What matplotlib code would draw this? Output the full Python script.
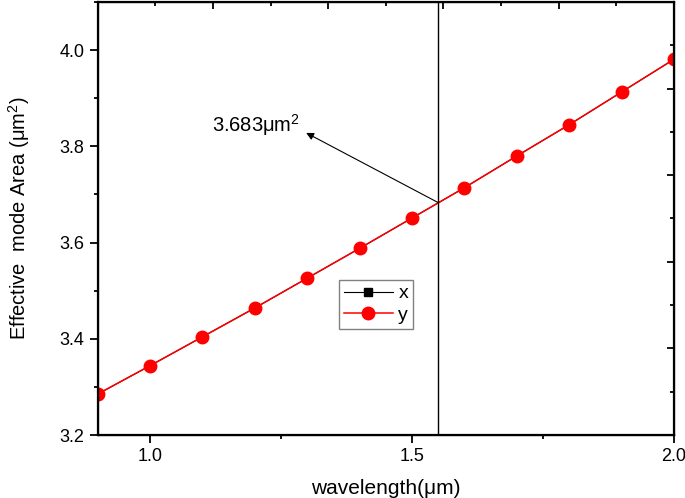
import matplotlib
matplotlib.use('Agg')
import matplotlib.pyplot as plt
from matplotlib.ticker import MultipleLocator, NullFormatter

plt.rcParams['font.family'] = ['Liberation Sans', 'DejaVu Sans']
plt.rcParams['mathtext.fontset'] = 'custom'
plt.rcParams['mathtext.rm'] = 'Liberation Sans'

# data
wavelength = [0.9, 1.0, 1.1, 1.2, 1.3, 1.4, 1.5, 1.6, 1.7, 1.8, 1.9, 2.0]
area = [3.285, 3.344, 3.404, 3.464, 3.526, 3.588, 3.651, 3.714, 3.780, 3.845, 3.913, 3.981]
marked_wl = 1.55
marked_area = 3.683
marked_label = '3.683\u03bcm$^2$'

fig = plt.figure(figsize=(6.85, 4.98), dpi=100)
ax = fig.add_axes([0.1425, 0.1265, 0.8415, 0.8695])

# black series sits exactly under the red one
ax.plot(wavelength, area, color='black', lw=0.8, marker='s', ms=6, label='x')
ax.plot(wavelength, area, color='red', lw=1.1, marker='o', ms=9, label='y')

ax.axvline(marked_wl, color='black', lw=1)
# arrow goes from the crossing point up to the label
ax.annotate('', xy=(1.298, 3.828), xytext=(marked_wl, marked_area),
            arrowprops=dict(arrowstyle='-|>', color='black', lw=0.8,
                            shrinkA=0, shrinkB=0, mutation_scale=11))
ax.text(1.118, 3.845, marked_label, fontsize=14.5, va='center', ha='left')

ax.set_xlim(0.9, 2.0)
ax.set_ylim(3.2, 4.1)
ax.xaxis.set_major_locator(MultipleLocator(0.5))
ax.xaxis.set_minor_locator(MultipleLocator(0.25))
ax.yaxis.set_major_locator(MultipleLocator(0.2))
ax.yaxis.set_minor_locator(MultipleLocator(0.1))
ax.tick_params(which='major', direction='out', length=6, width=1.3, labelsize=13)
ax.tick_params(which='minor', direction='out', length=3, width=1.3)
ax.tick_params(top=False, right=False)

ax.set_xlabel('wavelength(\u03bcm)', fontsize=15, labelpad=10)
ax.set_ylabel('Effective  mode Area (\u03bcm$^2$)', fontsize=14.5, labelpad=20)

for s in ax.spines.values():
    s.set_linewidth(1.6)

# top and right axes: 10 divisions, inward ticks, no labels
top = ax.twiny()
top.set_xlim(0, 10)
top.xaxis.set_major_locator(MultipleLocator(2))
top.xaxis.set_minor_locator(MultipleLocator(1))
top.xaxis.set_major_formatter(NullFormatter())
top.tick_params(which='major', direction='in', length=5, width=1.3)
top.tick_params(which='minor', direction='in', length=3, width=1.3)

right = ax.twinx()
right.set_ylim(0, 10)
right.yaxis.set_major_locator(MultipleLocator(2))
right.yaxis.set_minor_locator(MultipleLocator(1))
right.yaxis.set_major_formatter(NullFormatter())
right.tick_params(which='major', direction='in', length=5, width=1.3)
right.tick_params(which='minor', direction='in', length=3, width=1.3)

leg = ax.legend(loc='upper left', bbox_to_anchor=(0.419, 0.358), fontsize=14,
                fancybox=False, framealpha=1, edgecolor='gray',
                handlelength=2.5, handletextpad=0.3, borderpad=0.25,
                labelspacing=0.2, borderaxespad=0)
leg.get_frame().set_linewidth(1)

fig.savefig('out.png', dpi=100)
